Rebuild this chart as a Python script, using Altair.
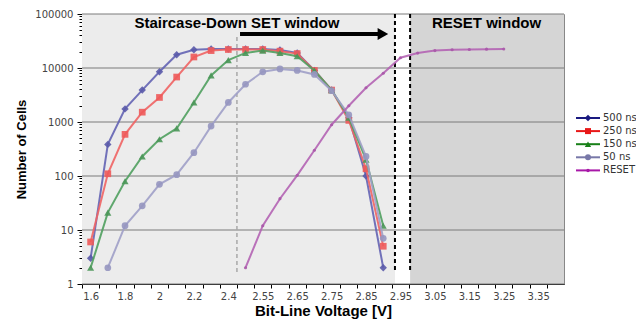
import altair as alt
import pandas as pd

# ---------------- data ----------------
categories = ["1.6", "1.7", "1.8", "1.9", "2", "2.1", "2.2", "2.3", "2.4", "2.5",
              "2.55", "2.6", "2.65", "2.7", "2.75", "2.8", "2.85", "2.9", "2.95", "3",
              "3.05", "3.1", "3.15", "3.2", "3.25", "3.3", "3.35", "3.4"]

series_names = ["500 ns", "250 ns", "150 ns", "50 ns", "RESET"]

cells_500 = [3, 385, 1750, 3900, 8500, 17600, 21800, 22500, 22500, 22500,
             22500, 21500, 19000, 9000, 3900, 1200, 100, 2]
cells_250 = [6, 110, 590, 1520, 2850, 6800, 16000, 21000, 22000, 22000,
             22000, 20500, 18500, 9000, 3900, 1070, 136, 5]
cells_150 = [2, 21, 80, 230, 480, 760, 2300, 7300, 14000, 19000,
             21000, 19000, 16500, 9000, 3900, 1200, 200, 12]
cells_50 = [None, 2, 12, 28, 70, 106, 270, 840, 2300, 5000,
            8500, 9600, 9000, 7600, 3800, 1350, 230, 7]
cells_reset = [None, None, None, None, None, None, None, None, None, 2,
               12, 38, 103, 300, 890, 2000, 4300, 8000, 15500, 18900,
               21000, 21800, 22000, 22300, 22500]

all_values = [cells_500, cells_250, cells_150, cells_50, cells_reset]

y_decades = [1, 10, 100, 1000, 10000, 100000]

# ---------------- styles ----------------
plot_colors = ["#6464b4", "#f06464", "#50a05f", "#a0a0c8", "#b464b4"]
marker_colors = ["#5a5aaa", "#ee5a5a", "#4a9658", "#9696c0", "#a858a8"]
legend_colors = ["#1a1a80", "#e81818", "#188018", "#7878a8", "#a818a8"]
shapes = ["diamond", "square", "triangle-up", "circle", "circle"]
sizes = [55, 45, 50, 45, 10]

W, H = 482, 270
N = len(categories)
step = W / N

rows = []
for name, vals in zip(series_names, all_values):
    for i, v in enumerate(vals):
        if v is not None:
            rows.append({"series": name, "idx": i, "cells": v})
df = pd.DataFrame(rows)

xscale = alt.Scale(domain=[-0.5, N - 0.5], nice=False, zero=False)
yscale = alt.Scale(type="log", domain=[1, 100000], nice=False)

label_array = "[" + ",".join("'" + c + "'" for c in categories) + "]"
xaxis = alt.Axis(
    values=list(range(N)),
    labelExpr=f"datum.value % 2 == 0 ? {label_array}[datum.value] : ''",
    tickOffset=-step / 2, labelOffset=step / 2,
    title="Bit-Line Voltage [V]", titleFont="Liberation Sans", titleFontSize=15,
    titleFontWeight="bold", titleColor="black", titlePadding=2,
    grid=False, domainColor="black", tickColor="black", tickSize=4,
    labelFont="DejaVu Sans", labelFontSize=10, labelColor="#444444",
    labelPadding=3, labelOverlap=False, labelFlush=False,
)

yvals = []
for d in y_decades[:-1]:
    for m in range(1, 10):
        yvals.append(d * m)
yvals.append(y_decades[-1])
dec_test = "abs(log(datum.value)/LN10 - round(log(datum.value)/LN10)) < 0.001"
yaxis = alt.Axis(
    values=yvals,
    labelExpr=f"{dec_test} ? format(datum.value, 'd') : ''",
    tickSize={"condition": {"test": dec_test, "value": 5}, "value": 3},
    title="Number of Cells", titleFont="Liberation Sans", titleFontSize=13,
    titleFontWeight="bold", titleColor="black", titlePadding=6,
    grid=False, domainColor="black", tickColor="black",
    labelFont="DejaVu Sans", labelFontSize=10, labelColor="#444444",
    labelPadding=4, labelOverlap=False,
)


def X(field):
    return alt.X(field, scale=xscale, axis=xaxis)


def Y(field):
    return alt.Y(field, scale=yscale, axis=yaxis)


# ---------------- background regions ----------------
regions = pd.DataFrame({
    "x0": [-0.5, 17.68, 18.56],
    "x1": [17.68, 18.56, N - 0.5],
    "fill": ["#ececec", "#ffffff", "#d5d5d5"],
})
bg = alt.Chart(regions).mark_rect().encode(
    x=X("x0:Q"), x2="x1:Q",
    y=alt.value(0), y2=alt.value(H),
    color=alt.Color("fill:N", scale=None),
)

grid = alt.Chart(pd.DataFrame({"v": y_decades})).mark_rule(
    color="#7a7a7a", strokeWidth=1
).encode(y=Y("v:Q"), x=alt.value(0), x2=alt.value(W))

# ---------------- annotation lines ----------------
gray_dash = alt.Chart(pd.DataFrame({"x": [8.5]})).mark_rule(
    color="#a8a8a8", strokeWidth=1.5, strokeDash=[4, 3]
).encode(x=X("x:Q"), y=alt.value(23), y2=alt.value(259))

black_dash = alt.Chart(pd.DataFrame({"x": [17.68, 18.56]})).mark_rule(
    color="black", strokeWidth=2, strokeDash=[4, 3]
).encode(x=X("x:Q"), y=alt.value(0), y2=alt.value(259))

arrow_line = alt.Chart(pd.DataFrame({"x0": [8.68], "x1": [16.75]})).mark_rule(
    color="black", strokeWidth=4
).encode(x=X("x0:Q"), x2="x1:Q", y=alt.value(20))

arrow_head = alt.Chart(pd.DataFrame({"x": [16.98]})).mark_point(
    shape="triangle-right", filled=True, color="black", size=150, opacity=1
).encode(x=X("x:Q"), y=alt.value(20))

labels_df = pd.DataFrame({"x": [8.5, 23.0], "t": ["Staircase-Down SET window", "RESET window"]})
window_text = alt.Chart(labels_df).mark_text(
    font="Liberation Sans", fontSize=15, fontWeight="bold", color="black",
    align="center", baseline="middle"
).encode(x=X("x:Q"), y=alt.value(9), text="t:N")

# ---------------- series ----------------
series_layers = []
for k, name in enumerate(series_names):
    d = df[df.series == name]
    line = alt.Chart(d).mark_line(color=plot_colors[k], strokeWidth=2, opacity=0.9).encode(
        x=X("idx:Q"), y=Y("cells:Q"),
    )
    pts = alt.Chart(d).mark_point(
        shape=shapes[k], size=sizes[k], filled=True, color=marker_colors[k], opacity=0.9
    ).encode(x=X("idx:Q"), y=Y("cells:Q"))
    series_layers += [line, pts]

# ---------------- legend ----------------
legend_layers = []
for k, name in enumerate(series_names):
    ly = 104 + 13.1 * k
    one = pd.DataFrame({"s": [name]})
    legend_layers.append(
        alt.Chart(one).mark_rule(color=legend_colors[k], strokeWidth=2).encode(
            x=alt.value(W + 12), x2=alt.value(W + 36), y=alt.value(ly))
    )
    legend_layers.append(
        alt.Chart(one).mark_point(shape=shapes[k], size=sizes[k] * 0.8 if k < 4 else 12,
                                  filled=True, color=legend_colors[k], opacity=1).encode(
            x=alt.value(W + 24), y=alt.value(ly))
    )
    legend_layers.append(
        alt.Chart(one).mark_text(font="DejaVu Sans", fontSize=10, color="#333333",
                                 align="left", baseline="middle").encode(
            x=alt.value(W + 39), y=alt.value(ly), text="s:N")
    )

chart = alt.layer(
    bg, grid, gray_dash, black_dash, *series_layers, arrow_line, arrow_head,
    window_text, *legend_layers
).properties(
    width=W, height=H,
    padding={"left": 74, "top": 6, "right": 72, "bottom": 36},
    autosize=alt.AutoSizeParams(type="none"),
).configure_view(stroke="#888888", strokeWidth=1)

chart.save("out.html", embed_options={"renderer": "svg", "actions": False})
